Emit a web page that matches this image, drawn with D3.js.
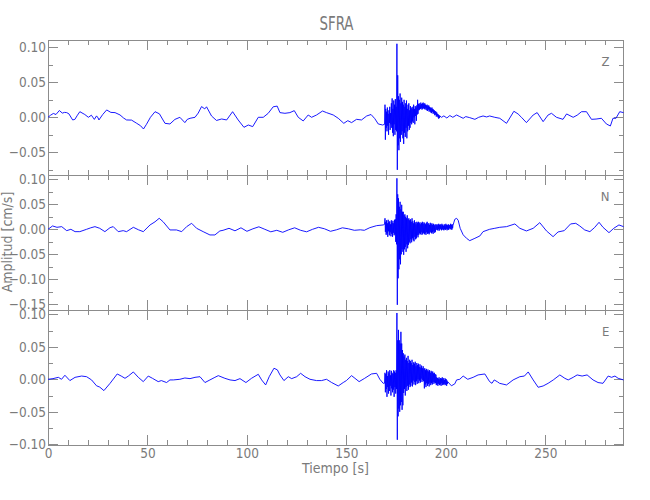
<!DOCTYPE html>
<html>
<head>
<meta charset="utf-8">
<script src="https://cdn.jsdelivr.net/npm/d3@7"></script>
<style>
  body { margin: 0; background: #fff; }
  svg text { font-family: 'Liberation Sans Narrow', 'DejaVu Sans Condensed', sans-serif; fill: #7a7a7a; }
</style>
</head>
<body>
<svg id="chart" width="650" height="500"></svg>
<script>
// Station SFRA, three components. Amplitudes in 0.001 cm/s, time in s.
const station = "SFRA";
const channels = ["Z", "N", "E"];
const tMax = 289.3;

// y ranges of each panel (cm/s)
const yMin = [-0.0824, -0.1614, -0.1011];
const yMax = [0.1104, 0.1086, 0.1066];

const yMajor = [-0.15, -0.10, -0.05, 0, 0.05, 0.10];
const yMinor = [-0.15, -0.125, -0.10, -0.075, -0.05, -0.025, 0, 0.025, 0.05, 0.075, 0.10];
const xMajor = [0, 50, 100, 150, 200, 250];
const xMinor = [0, 10, 20, 30, 40, 50, 60, 70, 80, 90, 100, 110, 120, 130, 140, 150, 160, 170, 180, 190, 200, 210, 220, 230, 240, 250, 260, 270, 280];

// quiet part before the arrival, [t, amplitude]
const zBefore = [[0,0],[1.3,3],[2.7,5.5],[4,4],[5.7,9.7],[7.2,6],[8.3,7],[9.4,6.7],[10.5,5],[12.4,-3.8],[13.5,-3],[14.8,3],[16,8],[18.5,4],[20.3,0],[21.8,3],[23.3,-3],[24.4,2],[25.2,-1],[25.6,-3.8],[27.5,4],[29.5,10.5],[31.6,7],[33.7,6.7],[36.2,3.4],[38,-1],[39.5,-3.8],[42,-4],[44.6,-8.6],[46.5,-12],[48,-16.7],[49.5,-10],[51.5,0],[53.8,8],[56,5],[58.8,-8.6],[61.3,-9.5],[63.8,-3],[66.3,0],[68.8,-7.6],[70,-3],[71.4,-1.4],[73.9,0],[75.5,6],[77.2,15.3],[78.8,12],[79.7,15],[82.2,1.9],[84.7,-4.5],[87.3,-2.4],[89.8,-3.8],[92.8,8],[95.6,-3.8],[98.5,-14.3],[100.7,-11],[102.9,-13.3],[105.7,0],[108.2,0],[110.7,5.7],[113.2,15],[115.2,16],[116.6,6.7],[119.1,5.7],[121.6,6.7],[123.8,9.5],[125.8,0],[128.3,-5.2],[130.8,3.3],[132.5,0],[135,3.3],[138,9],[140,6.7],[143.4,3.3],[145.9,-1.4],[148.7,-8.6],[150.7,-4.8],[152.6,-7.6],[155.1,-2.9],[157.6,-3.8],[160.2,1.9],[162.4,4],[164.3,-2],[166,-9.5],[168.2,-11]];
const nBefore = [[0,0],[2.3,6.7],[4.5,4],[6.9,5.3],[9.4,-2.7],[11.5,0],[13.6,-4.7],[16,-4.7],[19.4,0],[21.5,3],[23.6,5.3],[26,2],[28.6,-4.7],[31.2,3.3],[32.8,5.3],[35.3,-4.7],[37.8,-2.7],[39.5,-4.7],[42.9,4],[45.5,-1],[47.9,-4.7],[51.3,8.7],[53.8,15],[55.9,22],[57.9,15],[61.3,-1.3],[64.6,-1.3],[67.2,-4.7],[69.7,5.3],[72.2,12],[74.7,2],[78,-4.7],[81.4,-11.3],[83.9,-11.3],[86.4,-3.3],[88,-2],[91,2],[94,-3],[97,3],[100,-4],[103,1],[106,5],[109,0],[112,-5],[115,-2],[118,-6],[121,-1],[124,3],[127,-2],[130,-5],[133,0],[136,4],[139,1],[142,-4],[145,-1],[148,3],[151,1],[154,-2],[157,-1],[159,-2],[161.8,3.3],[165.2,7.3],[168.5,8.7]];
const eBefore = [[0,0],[2.5,1],[5.2,3],[6.8,0],[8.5,6.2],[11,-2],[13.6,3],[16.9,5],[19.4,4],[21.9,-1],[24.4,-10],[26,-12],[28.1,-17.4],[31.2,-6.2],[34.8,8.2],[36.8,5],[38.7,1.5],[40.4,5],[42.9,11.3],[45.4,3],[47.9,-3.6],[50.4,5],[52.5,1.5],[55.4,-3.6],[57,-2],[59.6,-5],[61.3,-1],[63,-1],[66.3,0],[68.8,2],[71.4,1],[73.9,3],[76.4,4],[78.9,-5],[81.4,-1],[83.9,3],[85.6,5.6],[88.9,1.5],[91.5,-1],[94,-2],[96.5,1],[99.5,-5],[102.3,1.5],[105.7,7.7],[107.4,-1],[109.4,-8.7],[111.2,4],[113.6,17],[115.3,14.5],[116.6,6.7],[118.6,-2],[120.8,4],[122.5,1],[125,4],[127,9.2],[129.2,4],[131.7,0],[135,-2],[137.5,-2],[140,0],[142.6,-5],[145.9,-10.3],[148.4,-5],[150,-2],[152.6,5.6],[154.3,1.5],[156.4,-3.6],[159.2,1.5],[162.6,8.2],[165.2,9.2],[166.8,0],[168.5,-6.2]];

// strong motion, sampled every 0.2 s from 169.2 s
const burstStart = 169.2, burstStep = 0.2;
const zBurst = [-10,18,-32,12,-15,
  8,-20,14,-12,5,-25,10,-8,15,-18,6,-10,
  20,-15,27,-22,12,-27,24,-10,18,-25,26,-18,15,-20,
  105,-75,60,
  -40,30,-47,25,-30,34,-35,20,-25,28,-20,
  22,-30,18,-38,25,-22,15,-28,20,-15,24,-30,12,-20,18,-12,20,-18,10,-15,16,-8,14,-10,12,
  -6,15,-8,18,0,12,-10,16,2,14,-5,17,4,25,5,
  19,10,20,11,18,12,21,13,19,11,
  20,12,21,13,19,12,20,11,18,13,
  17,10,18,9,16,11,17,8,15,10,
  14,7,13,6,14,8,12,5,11,6,
  10,3,9,4,8,1,7,2,5,0,
  4,-2,3,-1,2];
const nBurst = [10,22,-5,15,-11,18,-8,12,-15,19,-4,14,-12,16,-6,10,-14,18,-9,13,-15,17,-7,12,-12,19,-10,
  20,-25,30,-30,
  102,-151,70,
  -98,62,-80,45,-60,55,-70,40,-50,
  49,-40,35,-45,
  35,-51,28,-40,30,-35,25,-45,22,-30,28,-38,20,
  -31,22,-25,18,-28,20,-20,15,-26,22,-18,16,-22,12,-24,18,-15,14,-20,10,-18,15,-12,13,-16,
  15,-11,12,-8,14,-10,10,-6,13,-11,15,-9,11,-7,14,-10,12,-8,10,-11,13,-6,15,-9,11,-8,12,-10,9,-7,13,-5,10,-8,12,-6,9,-9,11,-4,8,-7,10,-5,9,
  9,-1,10,-2,8,0,11,-3,9,-1,10,1,8,-2,11,0,9,-1,7,-2,10,0,8,-1,11,1,9,-2,8,0,10,-1,9,2,8,0,11,1,9,-1,10,2,8];
const eBurst = [-6,10,-20,8,-15,14,-27,5,-12,12,-22,9,-18,14,-10,6,-25,13,-14,10,-20,8,-16,14,-27,12,-12,10,-22,14,-15,
  102,-93,60,
  -57,76,-45,60,-50,55,-40,73,-35,
  55,-47,45,-40,
  40,-21,35,-15,38,-25,30,-12,33,-18,28,-10,36,-16,25,-8,30,-12,
  28,-10,25,-5,30,-11,22,-2,26,-8,24,-4,27,-9,20,-3,25,-7,22,0,24,-6,19,-2,23,-5,18,1,21,-4,17,-1,20,-3,16,
  -14,17,-8,14,-12,16,-6,13,-10,15,-7,12,-11,14,-5,10,-9,13,-6,11,-8,12,-4,9,-7,10,-5,8,-6,7,
  -9,3,-8,2,-10,1,-7,3,-9,0,-8,2,-10,1,-6,3,-9,0,-8,2,-7,-1,-9,1,-8,0,-10,-2,-7,-4];

// after the strong motion, [t, amplitude]
const zAfter = [[197.8,0],[199,2],[200.5,-1],[202,2.5],[203.5,0],[205.4,3.3],[207,1],[208.7,-1.4],[210,1],[212,-0.5],[214.6,-2.9],[216.5,0],[218.7,1.9],[220.5,0.5],[222,1.9],[224.6,0],[227.1,-1.4],[230.5,-8.6],[234.2,8.6],[236.3,4.8],[238,0],[240.5,-7.6],[243.9,3.3],[245.9,6.7],[248.9,-6.2],[251.4,3.3],[253.1,5.7],[255.6,0],[258.9,-2.9],[260.7,4.8],[264,0],[266,3],[268.2,8],[270.7,8],[273.2,-2.9],[275.5,-2.5],[278.2,-1.4],[280.7,-9.5],[282.7,-12.4],[284,-1.4],[285.5,-1.4],[287.4,8],[289.3,6.7]];
const nAfter = [[204.5,20],[205.4,22],[206.2,18],[207.2,2],[208.7,-11],[210.4,-18],[212,-22.7],[214.6,-18],[217.1,-13.3],[218.7,-4.7],[222,0],[224.6,2],[227.1,4],[230.5,5.3],[234.7,10.7],[237.2,2],[240.5,-3.3],[243.9,2],[247.2,13.3],[250.6,-3.3],[253.9,-14.7],[256.4,-5.3],[259.5,-2.7],[262.7,10.7],[265.3,12],[267.3,6.7],[269.8,-1.3],[272.4,-4.7],[274.7,3.3],[277,14],[279,4],[282,-6.7],[284.4,2],[287,8.7],[289.3,5.3]];
const eAfter = [[202.8,-10],[204.5,-7],[205.4,-1],[207,0],[208.7,5],[211,0],[213.7,3],[216.2,6.7],[219.6,8.2],[222,-3.6],[223.2,-6.2],[224.3,-1],[226,-4],[227,-6.2],[230.5,-8.7],[233.8,-1],[237.2,4],[239.5,5],[241.4,11.3],[243.9,-1],[246.4,-12.3],[248.9,-10.3],[251.4,-6.2],[254,-1],[257.3,6.7],[259.8,1.5],[261.5,-1],[264,3],[266,6.7],[268.5,5],[271,6.7],[274,-1],[276.5,-5],[279,-6.2],[281.6,5],[283.3,3],[285,5],[286.6,1.5],[289.3,-1]];

function buildTrace(before, burst, after) {
    const pts = before.slice();
    burst.forEach((v, i) => pts.push([burstStart + i * burstStep, v]));
    after.forEach(d => pts.push(d));
    return pts.map(d => [d[0], d[1] / 1000]);
}

const traces = [
    buildTrace(zBefore, zBurst, zAfter),
    buildTrace(nBefore, nBurst, nAfter),
    buildTrace(eBefore, eBurst, eAfter)
];

const FONT = "'Liberation Sans Narrow', 'DejaVu Sans Condensed', sans-serif";
const axisColor = "#8c8c8c";
const panelTop = [40, 175, 310];
const panelH = 135;

const svg = d3.select("#chart");
svg.append("rect").attr("width", 650).attr("height", 500).attr("fill", "#fff");

const x = d3.scaleLinear().domain([0, tMax]).range([48, 623.5]);
const fmt = d3.format(".2f");

function drawAxis(g, axis, transform) {
    const a = g.append("g")
        .attr("transform", transform)
        .style("color", axisColor)
        .call(axis);
    // the axis sets its own font, put ours back after it
    a.attr("font-family", FONT).attr("font-size", 13.5);
    a.select(".domain").remove();
    a.selectAll("line").attr("shape-rendering", "crispEdges");
    return a;
}

const traceLayer = [];
channels.forEach((ch, i) => {
    const top = panelTop[i], bottom = top + panelH;
    const y = d3.scaleLinear().domain([yMin[i], yMax[i]]).range([bottom, top]);
    const g = svg.append("g");

    const inY = v => v >= yMin[i] - 1e-9 && v <= yMax[i] + 1e-9;
    const majors = yMajor.filter(inY);
    const minors = yMinor.filter(inY);

    // left axis with labels
    drawAxis(g, d3.axisLeft(y).tickValues(majors).tickSizeInner(-10).tickSizeOuter(0).tickPadding(2).tickFormat(fmt),
        `translate(${x(0)},0)`);
    drawAxis(g, d3.axisLeft(y).tickValues(minors).tickSizeInner(-5).tickSizeOuter(0).tickFormat(""),
        `translate(${x(0)},0)`);
    // right axis
    drawAxis(g, d3.axisRight(y).tickValues(majors).tickSizeInner(-10).tickSizeOuter(0).tickFormat(""),
        `translate(${x(tMax)},0)`);
    drawAxis(g, d3.axisRight(y).tickValues(minors).tickSizeInner(-5).tickSizeOuter(0).tickFormat(""),
        `translate(${x(tMax)},0)`);
    // top and bottom
    drawAxis(g, d3.axisTop(x).tickValues(xMajor).tickSizeInner(-10).tickSizeOuter(0).tickFormat(""),
        `translate(0,${top})`);
    drawAxis(g, d3.axisTop(x).tickValues(xMinor).tickSizeInner(-5).tickSizeOuter(0).tickFormat(""),
        `translate(0,${top})`);
    drawAxis(g, d3.axisBottom(x).tickValues(xMajor).tickSizeInner(-10).tickSizeOuter(0).tickPadding(3)
        .tickFormat(i === channels.length - 1 ? d3.format("d") : ""),
        `translate(0,${bottom})`);
    drawAxis(g, d3.axisBottom(x).tickValues(xMinor).tickSizeInner(-5).tickSizeOuter(0).tickFormat(""),
        `translate(0,${bottom})`);

    g.append("rect")
        .attr("x", x(0)).attr("y", top)
        .attr("width", x(tMax) - x(0)).attr("height", panelH)
        .attr("fill", "none").attr("stroke", axisColor)
        .attr("shape-rendering", "crispEdges");

    g.append("text")
        .attr("x", 609.5).attr("y", top + 26)
        .attr("text-anchor", "end")
        .attr("font-size", 13)
        .text(ch);

    traceLayer.push({ y: y, data: traces[i] });
});

// traces on top of all axes (spikes cross the panel borders)
const line = d3.line();
traceLayer.forEach(t => {
    svg.append("path")
        .datum(t.data)
        .attr("d", line.x(d => x(d[0])).y(d => t.y(d[1])))
        .attr("fill", "none")
        .attr("stroke", "#0000ff")
        .attr("stroke-width", 0.9)
        .attr("stroke-linejoin", "round");
});

svg.append("text")
    .attr("x", 336.5).attr("y", 30)
    .attr("text-anchor", "middle")
    .attr("font-size", 19)
    .attr("textLength", 34).attr("lengthAdjust", "spacingAndGlyphs")
    .text(station);

svg.append("text")
    .attr("x", 335.5).attr("y", 473)
    .attr("text-anchor", "middle")
    .attr("font-size", 14)
    .text("Tiempo [s]");

svg.append("text")
    .attr("transform", "translate(12,242) rotate(-90)")
    .attr("text-anchor", "middle")
    .attr("font-size", 14)
    .text("Amplitud [cm/s]");
</script>
</body>
</html>
